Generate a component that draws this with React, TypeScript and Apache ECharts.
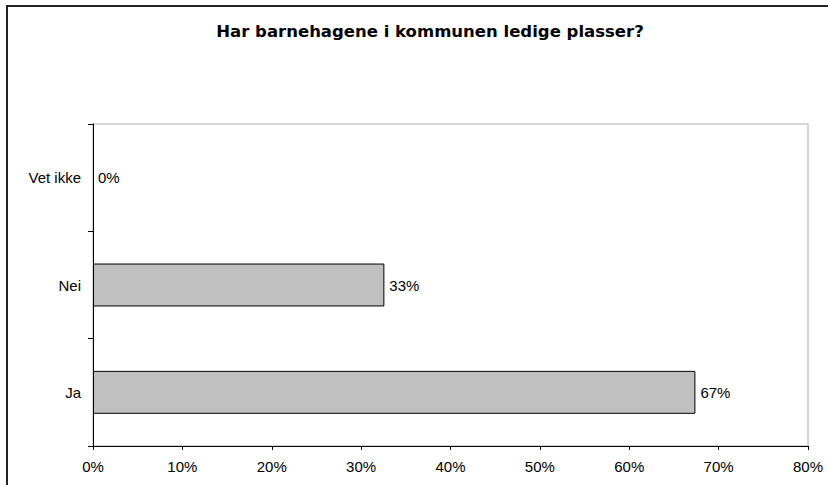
import React, { useEffect, useRef } from "react";
import * as echarts from "echarts";

const categories = ["Ja", "Nei", "Vet ikke"];
const values = [67.4, 32.6, 0];
const xTicks = [0, 10, 20, 30, 40, 50, 60, 70, 80];
const title = "Har barnehagene i kommunen ledige plasser?";

export default function App() {
  const ref = useRef<HTMLDivElement>(null);
  useEffect(() => {
    const chart = echarts.init(ref.current!, null, { renderer: "svg" });
    const titleFont = "'DejaVu Sans', Verdana, sans-serif";
    const font = "'Liberation Sans', Arial, Helvetica, sans-serif";
    chart.setOption({
      animation: false,
      backgroundColor: "#ffffff",
      title: {
        text: title,
        left: 425,
        top: 18,
        textAlign: "center",
        textStyle: { fontFamily: titleFont, fontSize: 16.5, fontWeight: "bold", color: "#000" },
      },
      graphic: [
        {
          type: "rect",
          shape: { x: 7, y: 6, width: 830, height: 500 },
          style: { fill: "none", stroke: "#222", lineWidth: 2 },
          silent: true,
          z: 100,
        },
      ],
      grid: {
        left: 93,
        right: 20,
        top: 124,
        bottom: 39,
        show: true,
        borderColor: "#c8c8c8",
        borderWidth: 1.5,
        backgroundColor: "transparent",
      },
      xAxis: {
        type: "value",
        min: xTicks[0],
        max: xTicks[xTicks.length - 1],
        interval: 10,
        axisLine: { show: true, onZero: false, lineStyle: { color: "#000", width: 1 } },
        axisTick: { show: true, length: 4, lineStyle: { color: "#000" } },
        splitLine: { show: false },
        axisLabel: {
          formatter: (v: number) => v + "%",
          fontFamily: font,
          fontSize: 15,
          color: "#000",
          margin: 13,
        },
      },
      yAxis: {
        type: "category",
        data: categories,
        axisLine: { show: true, lineStyle: { color: "#000", width: 1 } },
        axisTick: { show: true, length: 5, inside: false, lineStyle: { color: "#000" } },
        axisLabel: { fontFamily: font, fontSize: 15, color: "#000", margin: 12 },
      },
      series: [
        {
          type: "bar",
          data: values.map((v) => (v === 0 ? { value: v, itemStyle: { borderWidth: 0 } } : v)),
          barWidth: "40%",
          itemStyle: { color: "#c0c0c0", borderColor: "#000", borderWidth: 1 },
          label: {
            show: true,
            position: "right",
            distance: 5,
            formatter: (p: any) => Math.round(p.value) + "%",
            fontFamily: font,
            fontSize: 15,
            color: "#000",
          },
        },
      ],
    });
    return () => chart.dispose();
  }, []);
  return (
    <div
      ref={ref}
      style={{ position: "fixed", left: 0, top: 0, width: 828, height: 485 }}
    />
  );
}
